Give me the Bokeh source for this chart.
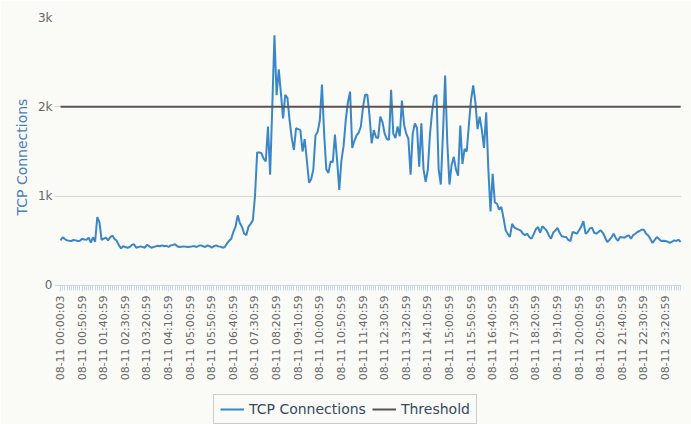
from bokeh.plotting import figure
from bokeh.models import ColumnDataSource, Range1d, FixedTicker, Legend, LegendItem, Title
from bokeh.embed import file_html
from bokeh.resources import INLINE

# ---- data (5-minute samples, 08-11) ----
tcp_connections = [
    505, 540, 520, 505, 500, 498, 510, 505, 498, 500,
    524, 515, 513, 535, 480, 540, 490, 765, 710, 510,
    525, 535, 505, 540, 560, 520, 500, 450, 415, 440,
    430, 423, 431, 455, 461, 423, 430, 438, 430, 423,
    455, 440, 423, 430, 438, 445, 440, 449, 440, 445,
    431, 449, 455, 461, 440, 431, 435, 438, 435, 431,
    435, 438, 440, 431, 445, 449, 440, 431, 449, 440,
    423, 440, 449, 438, 435, 423, 430, 468, 500, 524,
    600, 660, 785, 700, 655, 580, 565, 660, 690, 730,
    1000, 1490, 1490, 1480, 1420, 1390, 1780, 1240, 2000, 2800,
    2130, 2420, 2150, 1870, 2135, 2100, 1850, 1650, 1517, 1760,
    1750, 1740, 1500, 1640, 1400, 1150, 1190, 1300, 1680, 1720,
    1850, 2250, 1700, 1300, 1260, 1390, 1380, 1690, 1400, 1070,
    1400, 1560, 1850, 2050, 2170, 1540, 1620, 1680, 1710, 1780,
    2000, 2135, 2135, 1900, 1590, 1740, 1660, 1650, 1890, 1830,
    1700, 1640, 1630, 2190, 1700, 1650, 1780, 1670, 2070, 1800,
    1700, 1640, 1240, 1700, 1815, 1760, 1330, 1817, 1300, 1160,
    1300, 1700, 1950, 2116, 2135, 1300, 1130, 1700, 2350, 1600,
    1130, 1350, 1440, 1300, 1230, 1790, 1360, 1530, 1500, 1800,
    2080, 2240, 2050, 1750, 1890, 1740, 1540, 1940, 1300, 830,
    1250, 930, 915, 850, 880, 760, 620, 575, 545, 690,
    650, 637, 625, 615, 580, 565, 580, 540, 525, 575,
    630, 655, 590, 663, 640, 615, 560, 524, 590, 615,
    644, 590, 551, 545, 543, 510, 498, 600, 590, 580,
    618, 660, 720, 580, 599, 640, 648, 590, 580, 600,
    618, 590, 540, 487, 510, 540, 580, 530, 500, 543,
    540, 535, 551, 562, 524, 562, 580, 599, 610, 625,
    625, 580, 560, 520, 476, 510, 543, 520, 498, 500,
    498, 490, 476, 490, 505, 498, 513, 487,
]
threshold = 2000
y_ticks = [0, 1000, 2000, 3000]
y_tick_labels = ["0", "1k", "2k", "3k"]

tick_labels = [
    "08-11 00:00:03", "08-11 00:50:59", "08-11 01:40:59", "08-11 02:30:59",
    "08-11 03:20:59", "08-11 04:10:59", "08-11 05:00:59", "08-11 05:50:59",
    "08-11 06:40:59", "08-11 07:30:59", "08-11 08:20:59", "08-11 09:10:59",
    "08-11 10:00:59", "08-11 10:50:59", "08-11 11:40:59", "08-11 12:30:59",
    "08-11 13:20:59", "08-11 14:10:59", "08-11 15:00:59", "08-11 15:50:59",
    "08-11 16:40:59", "08-11 17:30:59", "08-11 18:20:59", "08-11 19:10:59",
    "08-11 20:00:59", "08-11 20:50:59", "08-11 21:40:59", "08-11 22:30:59",
    "08-11 23:20:59",
]
label_step = 10

n = len(tcp_connections)
idx = list(range(n))
src = ColumnDataSource(dict(x=idx, y=tcp_connections, t=[threshold] * n))

BG = "#fafaf7"
FONT = "DejaVu Sans"

# frame reaches down to the window bottom so that the legend sits inside it;
# the x axis is pinned at y = 0
p = figure(
    frame_width=627, frame_height=407,
    x_range=Range1d(-2.8, n - 0.6), y_range=Range1d(-1556, 3000),
    output_backend="svg", toolbar_location=None,
    background_fill_color=BG, border_fill_color=BG,
    min_border_left=54, min_border_right=10, min_border_top=17, min_border_bottom=0,
)
p.outline_line_color = None

r1 = p.line("x", "y", source=src, line_color="#3a87c8", line_width=2)
r2 = p.line("x", "t", source=src, line_color="#5c5354", line_width=2)

# x axis
major = list(range(0, label_step * len(tick_labels), label_step))
p.xaxis.fixed_location = 0
p.xaxis.ticker = FixedTicker(ticks=major, minor_ticks=idx)
p.xaxis.major_label_overrides = {m: lab for m, lab in zip(major, tick_labels)}
p.xaxis.major_label_orientation = 1.5707963
p.xaxis.major_label_text_font = FONT
p.xaxis.major_label_text_font_size = "11px"
p.xaxis.major_label_text_color = "#666666"
p.xaxis.axis_line_color = "#ccd6eb"
p.xaxis.major_tick_line_color = "#ccd6eb"
p.xaxis.minor_tick_line_color = "#ccd6eb"
p.xaxis.major_tick_out = 6
p.xaxis.minor_tick_out = 5
p.xaxis.major_tick_in = 0
p.xaxis.minor_tick_in = 0
p.xaxis.major_label_standoff = 4
p.xgrid.grid_line_color = None

# y axis
p.yaxis.ticker = FixedTicker(ticks=y_ticks)
p.yaxis.major_label_overrides = dict(zip(y_ticks, y_tick_labels))
p.yaxis.major_label_text_font = FONT
p.yaxis.major_label_text_font_size = "12px"
p.yaxis.major_label_text_color = "#666666"
p.yaxis.axis_line_color = None
p.yaxis.major_tick_line_color = None
p.yaxis.minor_tick_line_color = None
p.yaxis.major_tick_out = 0
p.yaxis.major_tick_in = 0
p.yaxis.major_label_standoff = 2
p.ygrid.grid_line_color = "#d6d6d6"
p.ygrid.grid_line_width = 1

ytitle = Title(text="TCP Connections", align="left", offset=209,
               text_font=FONT, text_font_size="14px", text_font_style="normal",
               text_color="#4a7ebb", standoff=10)
p.add_layout(ytitle, "left")

legend = Legend(
    items=[LegendItem(label="TCP Connections", renderers=[r1]),
           LegendItem(label="Threshold", renderers=[r2])],
    orientation="horizontal", location=(159, 0),
    label_text_font=FONT, label_text_font_size="14px", label_text_color="#34495e",
    background_fill_color=BG, border_line_color="#a0a0a0", border_line_width=1,
    glyph_width=24, label_standoff=5, spacing=6, padding=6, margin=0,
    label_height=14, glyph_height=14,
)
p.add_layout(legend, "center")

open("out.html", "w").write(file_html(p, INLINE))
